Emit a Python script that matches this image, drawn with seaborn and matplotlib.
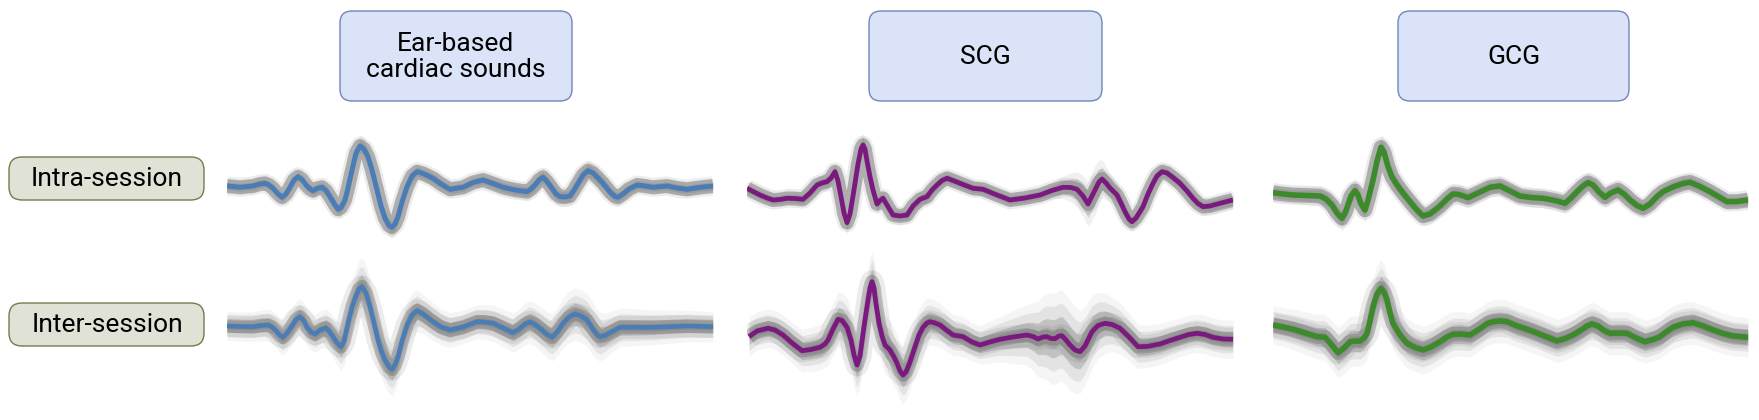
import matplotlib
matplotlib.use("Agg")
import matplotlib.pyplot as plt
from matplotlib.patches import FancyBboxPatch
import seaborn as sns
import numpy as np
import pandas as pd

# Column / row labels
signals = ["Ear-based\ncardiac sounds", "SCG", "GCG"]
sessions = ["Intra-session", "Inter-session"]
line_colors = ["#4a7db5", "#7a1a7f", "#3d8a2c"]

# Averaged beats as (sample, amplitude) pairs
ear_intra = [(0, 0), (13, -1.3), (26, 0), (33, 2), (38, 2.7), (42, 1), (46, -2.3), (51, -8), (55, -11.3),
             (59, -8), (63, -1.3), (67, 6), (71, 9.3), (75, 6.5), (79, 1), (83, -3), (86, -4.7), (90, -2.5),
             (95, -1.3), (99, -4.5), (103, -10.7), (108, -19), (111, -23.3), (114, -21.5), (118, -14), (121, -2),
             (125, 16), (129, 33), (133, 40), (137, 37), (141, 29.3), (145, 16), (150, -4), (154, -20),
             (158, -32.3), (162, -39.5), (165, -41.3), (168, -38), (171, -30.7), (175, -16), (180, -0.7),
             (185, 10), (190, 14.3), (196, 12.5), (206, 7.7), (214, 2), (223, -3.3), (236, -1.3), (246, 3.5),
             (256, 6), (266, 2.5), (276, -1.3), (288, -4), (300, -5.7), (304, -3), (308, 1), (312, 6), (316, 8.7),
             (320, 4.5), (325, -2.3), (329, -8), (333, -10.7), (338, -11), (343, -10), (347, -4), (352, 4.3),
             (356, 11), (361, 15.3), (366, 13), (371, 8), (376, 2.7), (383, -6), (388, -10.5), (391, -11.3),
             (396, -8), (402, -3), (410, 1), (418, 0), (426, -1.3), (440, 0), (450, -2), (460, -3.3),
             (472, -1.5), (486, 0)]
ear_inter = [(0, 0), (13, -0.5), (26, -0.7), (34, 0.5), (41, 1), (45, -1), (49, -4.7), (53, -9.5), (56, -11.3),
             (60, -7), (65, 0), (69, 6.5), (73, 9.3), (77, 5), (80, -1.3), (84, -6), (88, -8), (93, -4), (99, -2),
             (102, -5), (106, -10.7), (110, -17), (114, -20.7), (117, -15), (121, 2.7), (125, 19), (128, 27.7),
             (132, 37), (135, 39.3), (139, 33), (143, 19.3), (147, 3), (151, -14), (155, -27), (158, -34),
             (162, -41), (165, -43.3), (168, -39), (171, -30.7), (175, -15), (180, 1), (185, 11), (190, 15.3),
             (196, 12), (206, 4.3), (214, -1), (223, -4), (236, -1), (250, 4.3), (258, 4), (266, 2.7), (276, -2),
             (286, -6.7), (292, -3), (298, 2), (303, 4), (308, 1.5), (315, -4), (320, -8.5), (325, -11.3),
             (330, -6), (336, 2.7), (342, 9), (348, 12), (354, 10), (360, 6), (366, -3.3), (370, -8.5),
             (373, -10.7), (378, -9.5), (383, -6.7), (393, -1.3), (426, -1.3), (460, 0), (486, -0.7)]
scg_intra = [(0, -2.3), (6, -5.5), (13, -9), (20, -12), (26, -14), (33, -13.5), (40, -12.3), (48, -12.5),
             (56, -13.3), (63, -7), (70, 1), (75, 3), (80, 4.3), (84, 8), (88, 14.3), (91, 5), (94, -10.7),
             (97, -27), (100, -36.7), (103, -28), (106, -10), (108, 2.7), (111, 22), (114, 37), (116, 41),
             (118, 37), (120, 25), (123, 9.3), (126, -4), (130, -18), (133, -14.5), (136, -12.3), (140, -19),
             (146, -29), (153, -30), (160, -29), (166, -20), (173, -13.3), (180, -10.7), (185, -4), (190, 1),
             (195, 5.5), (200, 7.7), (206, 5.5), (213, 2.7), (226, -2.3), (236, -3.3), (250, -9), (263, -14),
             (278, -12), (293, -9), (305, -4.5), (316, -1.3), (324, -1.5), (330, -3.3), (336, -10), (341, -18),
             (344, -12), (348, -4), (352, 4), (355, 7), (359, 3), (363, -2), (370, -9), (374, -17), (378, -25.7),
             (382, -33), (385, -35.7), (389, -32), (396, -20.7), (401, -8), (406, 2.7), (410, 10), (415, 14.3),
             (420, 13), (426, 8.5), (433, 2.7), (440, -5), (446, -12.3), (451, -17.5), (456, -20.7), (463, -20),
             (473, -17.3), (480, -15.5), (486, -14)]
scg_inter = [(2, -10.7), (10, -5), (21, -2.3), (28, -4), (36, -9), (45, -17), (55, -24.7), (64, -23.5),
             (73, -21.3), (78, -18), (81, -14), (86, -3), (91, 6.7), (95, 5.5), (100, -1.3), (104, -14),
             (107, -29), (110, -39), (113, -30), (117, -0.7), (121, 26), (123, 38), (125, 44.3), (127, 38),
             (129, 22), (132, 2.7), (135, -10), (138, -19), (143, -24), (147, -31), (150, -37.3), (153, -45),
             (156, -49), (159, -46), (163, -36), (168, -20.7), (172, -9), (176, -1.3), (180, 3), (183, 4.3),
             (188, 3), (193, 1), (200, -4.5), (206, -9), (216, -10.7), (225, -16), (233, -19), (243, -16),
             (253, -13.3), (266, -11), (280, -9), (286, -10.5), (291, -13), (296, -11), (300, -10.7),
             (304, -12.5), (308, -12.7), (312, -10), (315, -9.7), (319, -14), (323, -19), (328, -24), (333, -25.7),
             (338, -20), (345, -5.7), (351, 0.5), (358, 2.7), (365, 1.5), (373, -2.3), (382, -11), (391, -20.7),
             (400, -20.5), (413, -18), (423, -14.5), (433, -11.3), (442, -8.5), (450, -7.3), (458, -8.5),
             (466, -11.3), (476, -13), (486, -13.3)]
gcg_intra = [(0, -6.7), (10, -8), (20, -9), (34, -9.5), (47, -10), (53, -13), (59, -19), (64, -27), (69, -32.3),
             (72, -27), (75, -19), (78, -10), (82, -4.7), (85, -9), (88, -18), (92, -24), (95, -14), (98, -2),
             (100, 6), (104, 25), (108, 38.7), (111, 34), (115, 19.3), (119, 9), (124, 1), (130, -7), (137, -15.7),
             (143, -23), (150, -30), (157, -28), (167, -20), (174, -13), (180, -8), (186, -8.5), (195, -11.7),
             (205, -7), (217, -1.3), (227, 0), (237, -5), (247, -10), (258, -11.5), (270, -12.3), (282, -14.5),
             (292, -17.3), (298, -12), (304, -5.7), (310, 0), (315, 3.3), (320, 1), (326, -6), (332, -11.3),
             (338, -7), (345, -4), (351, -8), (357, -14), (364, -19.5), (370, -22.3), (377, -18), (384, -10.5),
             (390, -5.7), (400, -1), (410, 2.5), (417, 3.7), (426, 0), (437, -5.7), (446, -11), (454, -15.7),
             (464, -15.5), (475, -14)]
gcg_inter = [(0, 1), (10, -1), (20, -3.3), (32, -7), (44, -10.7), (52, -11.3), (58, -18), (65, -26.7), (71, -22),
             (77, -15.7), (82, -15), (87, -15), (91, -12), (94, -7.3), (97, 5), (100, 19.3), (104, 32),
             (108, 37.7), (111, 34), (114, 26), (117, 13), (120, 2.7), (127, -9), (134, -17.3), (142, -21.5),
             (150, -24), (158, -21), (167, -15.7), (174, -11), (180, -8.3), (188, -8), (197, -9), (208, -2),
             (214, 2.5), (220, 4.3), (227, 5), (234, 4.3), (244, 0), (254, -3.3), (264, -7), (275, -11.5),
             (284, -15), (292, -12.5), (300, -9), (309, -3.5), (314, 0), (319, 2), (325, 0), (331, -4.5),
             (337, -7.3), (346, -7), (354, -7.3), (363, -12), (372, -15.7), (380, -13.5), (387, -10.7), (393, -6),
             (400, -1.3), (410, 2), (420, 3.3), (430, 0), (440, -4), (450, -7.5), (460, -10), (475, -11.3)]

# Beat-to-beat spread of the grey traces, per section (section start, spread)
ear_intra_sd = [(0, 4), (95, 5), (125, 7), (145, 5), (155, 7), (175, 5), (200, 4), (295, 5.5), (345, 6),
                (380, 5), (400, 4)]
ear_inter_sd = [(0, 6), (45, 7.5), (100, 9), (120, 12), (150, 11), (178, 9), (200, 7), (280, 9), (330, 11),
                (380, 8), (400, 6)]
scg_intra_sd = [(0, 4), (60, 5), (95, 7), (125, 5), (200, 4), (325, 9), (335, 17), (350, 11), (362, 6),
                (400, 5)]
scg_inter_sd = [(0, 8), (60, 10), (95, 13), (130, 12), (170, 10), (200, 8), (280, 13), (290, 19), (340, 13),
                (360, 10), (400, 8)]
gcg_intra_sd = [(0, 5), (55, 8), (80, 7), (100, 8), (120, 6), (200, 5.5), (300, 6.5), (340, 5.5), (430, 4.5)]
gcg_inter_sd = [(0, 8), (50, 11), (80, 10), (95, 12), (120, 10), (180, 9), (450, 8)]

panels = [
    [(ear_intra, ear_intra_sd), (scg_intra, scg_intra_sd), (gcg_intra, gcg_intra_sd)],
    [(ear_inter, ear_inter_sd), (scg_inter, scg_inter_sd), (gcg_inter, gcg_inter_sd)],
]

sns.set_theme(style="white")
plt.rcParams['font.family'] = ['Roboto', 'DejaVu Sans']

W, H = 1759, 420
PT = 0.72  # points per pixel at dpi 100
fig = plt.figure(figsize=(W / 100, H / 100), dpi=100)

# panel placement in pixels (left, right) and row centre / half height
col_px = [(227, 713), (747, 1233), (1273, 1748)]
row_px = [(186, 70), (326, 80)]
line_px = [[5.0, 4.8, 5.6], [4.6, 4.8, 5.6]]

# grey bundle styling per row: fills (multiple of spread, alpha), strokes (extra px, alpha)
band_grey = ["#858585", "#636363"]
band_fill = [[(1.7, 0.12), (1.0, 0.35)],
             [(2.4, 0.06), (1.7, 0.12), (1.0, 0.25), (0.5, 0.2)]]
band_stroke = [[(14, 0.15), (9, 0.6)],
               [(18, 0.12), (9, 0.35)]]


def section_spread(t, sections):
    starts = np.array([s for s, _ in sections])
    vals = np.array([v for _, v in sections], dtype=float)
    sd = vals[np.searchsorted(starts, t, side="right") - 1]
    # soften the section edges a little
    return np.convolve(np.pad(sd, 3, mode="edge"), np.ones(7) / 7, mode="valid")


for r in range(2):
    cy, hh = row_px[r]
    for c in range(3):
        x0, x1 = col_px[c]
        ax = fig.add_axes([x0 / W, 1 - (cy + hh) / H, (x1 - x0) / W, 2 * hh / H])
        beat, sections = panels[r][c]
        df = pd.DataFrame(beat, columns=["t", "y"])
        df["sd"] = section_spread(df["t"].to_numpy(), sections)
        for k, a in band_fill[r]:
            ax.fill_between(df["t"], df["y"] - k * df["sd"], df["y"] + k * df["sd"],
                            color=band_grey[r], alpha=a, lw=0)
        for extra, a in band_stroke[r]:
            sns.lineplot(data=df, x="t", y="y", ax=ax, color=band_grey[r], alpha=a,
                         lw=(line_px[r][c] + extra) * PT, solid_joinstyle="round", solid_capstyle="butt")
        sns.lineplot(data=df, x="t", y="y", ax=ax, color=line_colors[c], lw=line_px[r][c] * PT,
                     solid_joinstyle="round", solid_capstyle="butt")
        ax.set_xlim(0, x1 - x0)
        ax.set_ylim(-hh, hh)
        ax.axis("off")

# overlay for the labelled boxes, in pixel coordinates
ov = fig.add_axes([0, 0, 1, 1], zorder=5)
ov.set_xlim(0, W)
ov.set_ylim(H, 0)
ov.axis("off")

head_boxes = [(340, 572), (869, 1102), (1398, 1629)]
for (bx0, bx1), name in zip(head_boxes, signals):
    ov.add_patch(FancyBboxPatch((bx0, 11), bx1 - bx0, 90, boxstyle="round,pad=0,rounding_size=12",
                                fc="#dae3f7", ec="#6f87b8", lw=1))
    ov.text((bx0 + bx1) / 2, 57, name, ha="center", va="center", fontsize=19, linespacing=1.15, color="black")

for name, yc in zip(sessions, [178.5, 324.5]):
    ov.add_patch(FancyBboxPatch((9, yc - 21.5), 195, 43, boxstyle="round,pad=0,rounding_size=13",
                                fc="#e1e2d6", ec="#6f7d4e", lw=1))
    ov.text(107, yc + 1, name, ha="center", va="center", fontsize=19, color="black")

fig.savefig("out.png", dpi=100)
plt.close(fig)
